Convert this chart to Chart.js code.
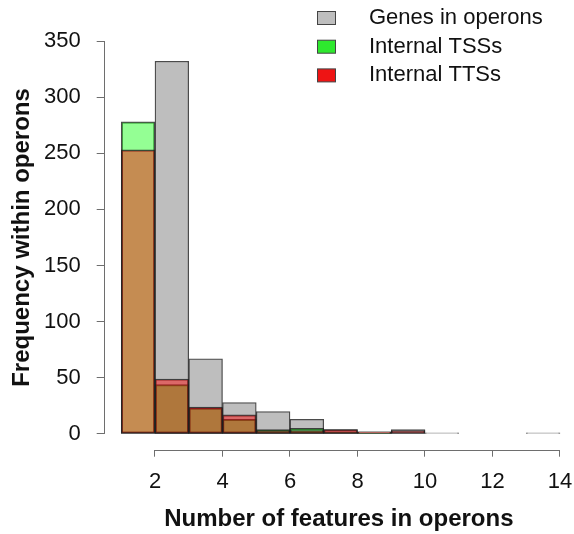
<!DOCTYPE html>
<html>
<head>
<meta charset="utf-8">
<script src="https://cdn.jsdelivr.net/npm/chart.js@4/dist/chart.umd.min.js"></script>
<style>
  body { margin: 0; background: #ffffff; }
  canvas { display: block; }
</style>
</head>
<body>
<canvas id="grafico" width="574" height="534"></canvas>
<script>
// ------------------------------ Datos ------------------------------
// centro de cada barra (bins de ancho 1, de 1 a 14)
const bins = [1.5, 2.5, 3.5, 4.5, 5.5, 6.5, 7.5, 8.5, 9.5, 10.5, 11.5, 12.5, 13.5];
const genesInOperons = [0, 332, 67, 28, 20, 13, 4, 2, 4, 1, 0, 0, 1];
const internalTSS = [278, 44, 23, 13, 4, 5, 2, 1, 0, 0, 0, 0, 0];
const internalTTS = [253, 49, 24, 17, 3, 3, 4, 2, 3, 0, 0, 0, 0];

const seriesLabels = ["Genes in operons", "Internal TSSs", "Internal TTSs"];
const xTicks = [2, 4, 6, 8, 10, 12, 14];
const yTicks = [0, 50, 100, 150, 200, 250, 300, 350];

// colores de relleno (barras semitransparentes) y de la leyenda
const colorBarras = ["#bebebe", "rgba(0, 255, 0, 0.42)", "rgba(255, 0, 0, 0.45)"];
const colorLeyenda = ["#bebebe", "#2ee82e", "#ee1414"];

const fuente = "'Liberation Sans', Arial, Helvetica, sans-serif";
const colorEje = "#6e6e6e";

function armarSerie(valores) {
    return bins.map((b, i) => ({ x: b, y: valores[i] }));
}

// ------------------------------ Plugin: líneas de ejes estilo R ------------------------------
const ejesR = {
    id: "ejesR",
    afterDraw(chart) {
        const { ctx, chartArea, scales } = chart;
        const xs = scales.x;
        const ys = scales.y;
        const izq = Math.round(chartArea.left) + 0.5;
        const abajo = Math.round(chartArea.bottom) + 0.5;
        ctx.save();
        ctx.strokeStyle = colorEje;
        ctx.lineWidth = 1;
        ctx.beginPath();
        ctx.moveTo(izq, ys.getPixelForValue(yTicks[0]));
        ctx.lineTo(izq, ys.getPixelForValue(yTicks[yTicks.length - 1]));
        ctx.moveTo(xs.getPixelForValue(xTicks[0]), abajo);
        ctx.lineTo(xs.getPixelForValue(xTicks[xTicks.length - 1]), abajo);
        ctx.stroke();
        ctx.restore();
    }
};

// ------------------------------ Plugin: leyenda arriba a la derecha ------------------------------
const leyendaR = {
    id: "leyendaR",
    afterDraw(chart) {
        const { ctx } = chart;
        ctx.save();
        ctx.font = "22px " + fuente;
        ctx.textBaseline = "middle";
        ctx.textAlign = "left";
        seriesLabels.forEach((texto, i) => {
            const cy = 18 + i * 28.7;
            ctx.fillStyle = colorLeyenda[i];
            ctx.fillRect(317.5, cy - 6.5, 18, 13);
            ctx.strokeStyle = "#444";
            ctx.lineWidth = 1;
            ctx.strokeRect(317.5, cy - 6.5, 18, 13);
            ctx.fillStyle = "#111";
            ctx.fillText(texto, 369, cy);
        });
        ctx.restore();
    }
};

// ------------------------------ Gráfico ------------------------------
const ctx = document.getElementById("grafico").getContext("2d");

const estiloBarra = {
    borderColor: "rgba(30, 30, 30, 0.8)",
    borderWidth: 1.3,
    borderSkipped: false,
    barPercentage: 1,
    categoryPercentage: 1,
    grouped: false
};

new Chart(ctx, {
    type: "bar",
    data: {
        datasets: [
            Object.assign({ label: seriesLabels[0], data: armarSerie(genesInOperons), backgroundColor: colorBarras[0], order: 3 }, estiloBarra),
            Object.assign({ label: seriesLabels[1], data: armarSerie(internalTSS), backgroundColor: colorBarras[1], order: 2 }, estiloBarra),
            Object.assign({ label: seriesLabels[2], data: armarSerie(internalTTS), backgroundColor: colorBarras[2], order: 1 }, estiloBarra)
        ]
    },
    options: {
        responsive: false,
        animation: false,
        layout: { padding: { top: 25.3, right: 0, left: 0, bottom: 0 } },
        plugins: {
            legend: { display: false },
            tooltip: { enabled: false }
        },
        scales: {
            x: {
                type: "linear",
                offset: false,
                min: 0.48,
                max: 14.415,
                grid: {
                    offset: false,
                    drawOnChartArea: false,
                    drawTicks: true,
                    tickLength: 7,
                    color: colorEje
                },
                border: { display: false },
                ticks: {
                    color: "#111",
                    padding: 12,
                    maxRotation: 0,
                    font: { family: fuente, size: 22 }
                },
                title: {
                    display: true,
                    text: "Number of features in operons",
                    color: "#111",
                    padding: { top: 0, bottom: 0 },
                    font: { family: fuente, size: 24, weight: "bold" }
                },
                afterBuildTicks: (scale) => {
                    scale.ticks = xTicks.map(v => ({ value: v }));
                },
                afterFit: (scale) => {
                    scale.height = 84.3;
                    scale.paddingLeft = 0;
                    scale.paddingRight = 0;
                }
            },
            y: {
                min: -14,
                max: 364,
                grid: {
                    drawOnChartArea: false,
                    drawTicks: true,
                    tickLength: 7,
                    color: colorEje
                },
                border: { display: false },
                ticks: {
                    color: "#111",
                    padding: 16,
                    font: { family: fuente, size: 22 }
                },
                title: {
                    display: true,
                    text: "Frequency within operons",
                    color: "#111",
                    padding: { top: 7.6, bottom: 0 },
                    font: { family: fuente, size: 24, weight: "bold" }
                },
                afterBuildTicks: (scale) => {
                    scale.ticks = yTicks.map(v => ({ value: v }));
                },
                afterFit: (scale) => {
                    scale.width = 103.7;
                    scale.paddingTop = 0;
                    scale.paddingBottom = 0;
                }
            }
        }
    },
    plugins: [ejesR, leyendaR]
});
</script>
</body>
</html>
